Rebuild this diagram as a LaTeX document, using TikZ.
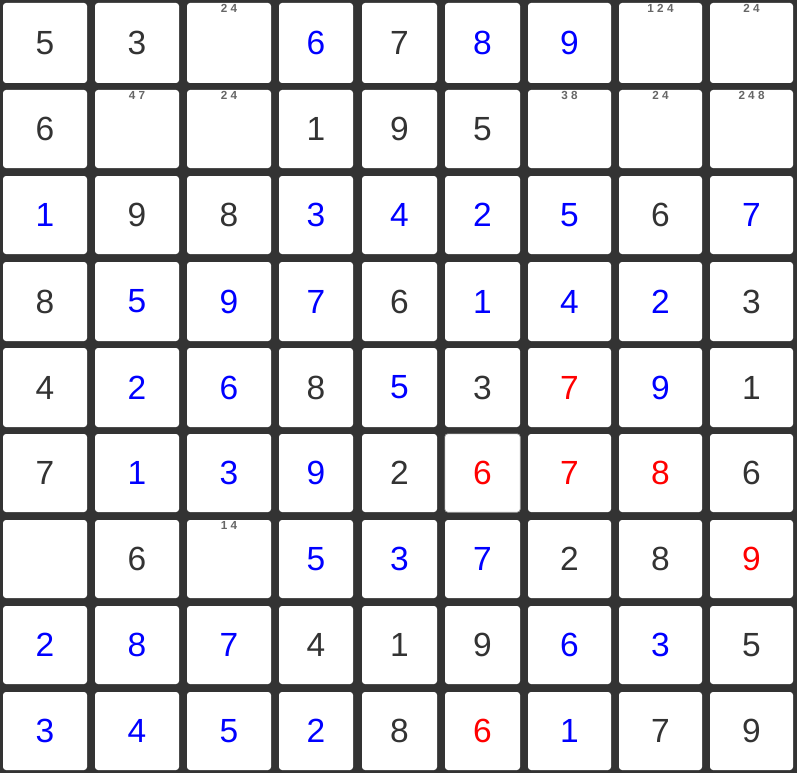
\documentclass[tikz,border=0pt]{standalone}
\usepackage{fontspec}
\setmainfont{Liberation Sans}
\usepackage{xcolor}
\usetikzlibrary{positioning}
\definecolor{board}{HTML}{333333}
\definecolor{given}{HTML}{333333}
\definecolor{entry}{HTML}{0000FF}
\definecolor{clash}{HTML}{FF0000}
\definecolor{pencil}{HTML}{666666}
\tikzset{
	cell/.style={fill=white,rounded corners=3pt,inner sep=0pt},
	digit/.style={inner sep=0pt,font=\fontsize{33.5}{34}\selectfont},
	pencilmark/.style={inner sep=0pt,anchor=north,text=pencil,font=\bfseries\fontsize{11.7}{12}\selectfont},
	selbox/.style={draw=black!35,line width=0.6pt,rounded corners=3pt}
}

\begin{document}
\begin{tikzpicture}[x=1pt,y=-1pt]
		\fill[board] (0,0) rectangle (797,773);
		\foreach \r/\top/\bot in {1/3/83,2/90/168,3/176/254,4/262/341,5/348/427,6/434/512,7/520/598,8/606/684,9/692/770}
			\foreach \c/\lft/\rgt in {1/3/87,2/95/179,3/187/271,4/279/353,5/362/437,6/445/520,7/528/611,8/619/702,9/710/793}
				\node[cell,minimum width={(\rgt-\lft)*1pt},minimum height={(\bot-\top)*1pt}] (c\r\c) at ({(\lft+\rgt)/2},{(\top+\bot)/2}) {};
		\draw[selbox] (c66.north west) rectangle (c66.south east);
		\foreach \r/\row in {
				1/{5/given,3/given,/given,6/entry,7/given,8/entry,9/entry,/given,/given},
				2/{6/given,/given,/given,1/given,9/given,5/given,/given,/given,/given},
				3/{1/entry,9/given,8/given,3/entry,4/entry,2/entry,5/entry,6/given,7/entry},
				4/{8/given,5/entry,9/entry,7/entry,6/given,1/entry,4/entry,2/entry,3/given},
				5/{4/given,2/entry,6/entry,8/given,5/entry,3/given,7/clash,9/entry,1/given},
				6/{7/given,1/entry,3/entry,9/entry,2/given,6/clash,7/clash,8/clash,6/given},
				7/{/given,6/given,/given,5/entry,3/entry,7/entry,2/given,8/given,9/clash},
				8/{2/entry,8/entry,7/entry,4/given,1/given,9/given,6/entry,3/entry,5/given},
				9/{3/entry,4/entry,5/entry,2/entry,8/given,6/clash,1/entry,7/given,9/given}}
			\foreach \d/\k [count=\c] in \row
				\node[digit,text=\k] (d\r\c) at (c\r\c) {\d};
		\foreach \r/\c/\m in {1/3/{2 4},1/8/{1 2 4},1/9/{2 4},2/2/{4 7},2/3/{2 4},2/7/{3 8},2/8/{2 4},2/9/{2 4 8},7/3/{1 4}}
			\node[pencilmark] (p\r\c) at ([yshift=-1.4pt]c\r\c.north) {\m};
\end{tikzpicture}
\end{document}
